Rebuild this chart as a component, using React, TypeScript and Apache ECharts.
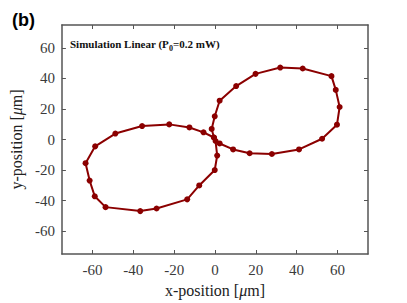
import React, { useEffect, useRef } from "react";
import * as echarts from "echarts";

const xValues = [-0.5, -5.6, -12.5, -22.4, -35.7, -48.8, -58.7, -63.4, -61.4, -58.9, -53.6, -36.6, -28.6, -13.6, -7.7, -0.1, 1.1, 0.3, 2.3, 8.9, 17.0, 27.9, 41.2, 52.5, 59.8, 61.1, 59.2, 57.1, 43.0, 32.0, 19.9, 10.4, 2.3, -0.1, -1.6, -0.5];
const yValues = [1.3, 4.7, 7.9, 9.9, 8.8, 3.9, -4.5, -15.5, -26.9, -37.2, -44.3, -46.9, -45.2, -39.2, -30.1, -20.0, -10.5, -1.0, -2.6, -6.5, -9.0, -9.5, -6.5, 0.5, 9.7, 21.3, 32.5, 41.5, 46.5, 47.1, 43.0, 35.0, 25.4, 15.2, 6.9, 1.3];
const xTicks = [-60, -40, -20, 0, 20, 40, 60];
const yTicks = [-60, -40, -20, 0, 20, 40, 60];

const serif = "'Liberation Serif', 'DejaVu Serif', serif";

export default function App() {
  const ref = useRef<HTMLDivElement>(null);
  useEffect(() => {
    if (!ref.current) return;
    const chart = echarts.init(ref.current, null, { renderer: "svg" });
    const data = xValues.map((x, i) => [x, yValues[i]]);
    const axisCommon = {
      min: -75,
      max: 75,
      interval: 20,
      axisLine: { show: true, onZero: false, lineStyle: { color: "#555", width: 1.5 } },
      axisTick: { show: true, inside: true, length: 4, lineStyle: { color: "#555", width: 1 } },
      splitLine: { show: false },
    };
    chart.setOption({
      animation: false,
      backgroundColor: "#fff",
      grid: { left: 60, right: 39, top: 25, bottom: 46, show: false },
      xAxis: [
        {
          type: "value",
          position: "bottom",
          ...axisCommon,
          axisLabel: {
            show: true,
            color: "#3a3a3a",
            fontFamily: serif,
            fontSize: 15,
            margin: 8,
            customValues: xTicks,
          },
          axisTick: { ...axisCommon.axisTick, customValues: xTicks },
          name: "x-position [{i|μ}m]",
          nameLocation: "middle",
          nameGap: 28,
          nameTextStyle: {
            color: "#222",
            fontFamily: serif,
            fontSize: 16,
            rich: { i: { fontStyle: "italic", fontFamily: serif, fontSize: 16, color: "#222" } },
          },
        },
        {
          type: "value",
          position: "top",
          ...axisCommon,
          axisLabel: { show: false },
          axisTick: { ...axisCommon.axisTick, customValues: xTicks },
        },
      ],
      yAxis: [
        {
          type: "value",
          position: "left",
          ...axisCommon,
          axisLabel: {
            show: true,
            color: "#3a3a3a",
            fontFamily: serif,
            fontSize: 15,
            margin: 7,
            customValues: yTicks,
          },
          axisTick: { ...axisCommon.axisTick, customValues: yTicks },
          name: "y-position [{i|μ}m]",
          nameLocation: "middle",
          nameGap: 34,
          nameRotate: 90,
          nameTextStyle: {
            color: "#222",
            fontFamily: serif,
            fontSize: 16,
            rich: { i: { fontStyle: "italic", fontFamily: serif, fontSize: 16, color: "#222" } },
          },
        },
        {
          type: "value",
          position: "right",
          ...axisCommon,
          axisLabel: { show: false },
          axisTick: { ...axisCommon.axisTick, customValues: yTicks },
        },
      ],
      graphic: [
        {
          type: "text",
          left: 12,
          top: 11,
          style: {
            text: "(b)",
            font: "bold 18px 'Liberation Sans', Arial, sans-serif",
            fill: "#000",
          },
        },
        {
          type: "text",
          left: 70,
          top: 38,
          style: {
            text: "{a|Simulation Linear (P}{s|0}{a|=0.2 mW)}",
            rich: {
              a: { fontFamily: serif, fontSize: 11, fontWeight: "bold", fill: "#111", lineHeight: 17, verticalAlign: "middle" },
              s: { fontFamily: serif, fontSize: 8, fontWeight: "bold", fill: "#111", lineHeight: 17, verticalAlign: "bottom" },
            },
          },
        },
      ],
      series: [
        {
          type: "line",
          data,
          xAxisIndex: 0,
          yAxisIndex: 0,
          showSymbol: true,
          symbol: "circle",
          symbolSize: 6,
          lineStyle: { color: "#8b0000", width: 2 },
          itemStyle: { color: "#8b0000" },
        },
      ],
    });
    return () => chart.dispose();
  }, []);
  return <div ref={ref} style={{ width: 407, height: 303, position: "absolute", left: 0, top: 0 }} />;
}
